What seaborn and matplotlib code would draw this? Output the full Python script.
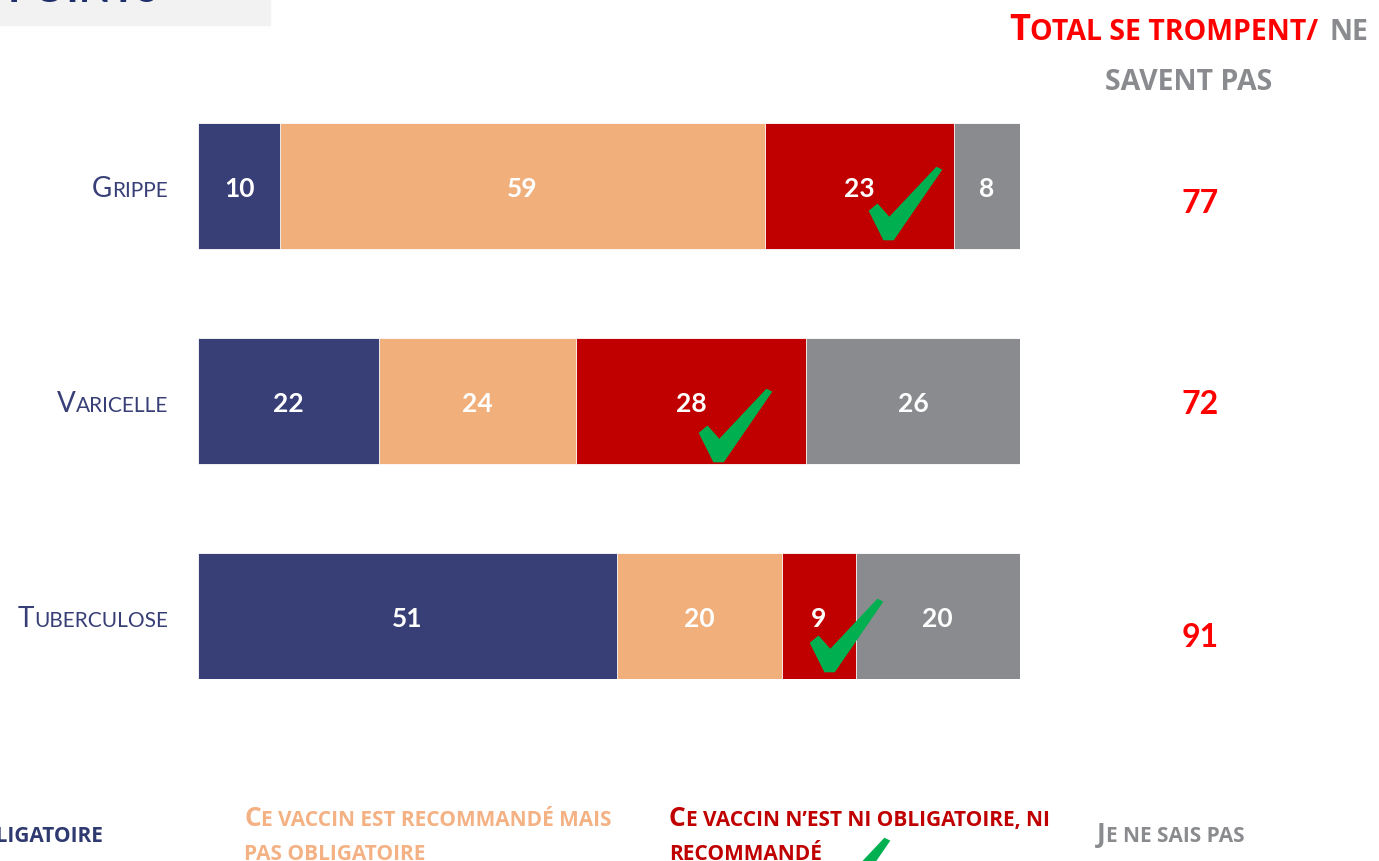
import numpy as np
import pandas as pd
import matplotlib
matplotlib.use('Agg')
import matplotlib.pyplot as plt
import seaborn as sns
from matplotlib.path import Path
from matplotlib.patches import Rectangle
from matplotlib.lines import Line2D
from matplotlib.transforms import IdentityTransform

# data
categories = ['GRIPPE', 'VARICELLE', 'TUBERCULOSE']
obligatoire = [10, 22, 51]
recommande = [59, 24, 20]
ni_ni = [23, 28, 9]
ne_sait_pas = [8, 26, 20]
totals = [77, 72, 91]

legend_labels = [
    ['CE VACCIN EST OBLIGATOIRE'],
    ['CE VACCIN EST RECOMMANDÉ MAIS', 'PAS OBLIGATOIRE'],
    ['CE VACCIN N\u2019EST NI OBLIGATOIRE, NI', 'RECOMMANDÉ'],
    ['JE NE SAIS PAS'],
]

W, H = 1379, 861
NAVY = '#373F76'
ORANGE = '#F0AF7B'
ORANGE_TXT = '#F4B183'
RED = '#C00000'
GREY = '#898B8E'
GREEN = '#00B050'
BRIGHT_RED = '#FF0000'

sns.set_theme(style='white')
plt.rcParams['font.family'] = ['Lato', 'DejaVu Sans']

fig = plt.figure(figsize=(W / 100, H / 100), dpi=100)
ax = fig.add_axes([198 / W, (H - 679) / H, 822 / W, 556 / H])

df = pd.DataFrame({'cat': categories, 'a': obligatoire, 'b': recommande,
                   'c': ni_ni, 'd': ne_sait_pas})
df['cum1'] = df['a']
df['cum2'] = df['cum1'] + df['b']
df['cum3'] = df['cum2'] + df['c']
df['cum4'] = df['cum3'] + df['d']

# stacked bars by drawing cumulative sums, largest first
for col, color in [('cum4', GREY), ('cum3', RED), ('cum2', ORANGE), ('cum1', NAVY)]:
    sns.barplot(data=df, x=col, y='cat', order=categories, color=color,
                saturation=1, width=0.586, edgecolor='white', linewidth=0.6,
                errorbar=None, ax=ax)

ax.set_xlim(0, 100)
ax.set_ylim(2.293, -0.293)
ax.axis('off')

# values inside segments
for i, row in df.iterrows():
    left = 0
    for v in [row['a'], row['b'], row['c'], row['d']]:
        ax.text(left + v / 2, i + 0.051, str(v), color='white', fontsize=19,
                fontweight='bold', ha='center', va='baseline', zorder=6)
        left += v

# totals on the right
total_dy = [0.126, 0.060, 0.144]
for i, t in enumerate(totals):
    ax.text(121.9, i + total_dy[i], str(t), color=BRIGHT_RED, fontsize=23,
            fontweight='bold', ha='center', va='baseline', clip_on=False)

# check mark shape
check = Path([(-0.50, -0.10), (-0.38, 0.00), (-0.22, -0.18), (0.42, 0.50),
              (0.50, 0.46), (-0.16, -0.50), (-0.30, -0.50), (-0.50, -0.10)],
             [Path.MOVETO] + [Path.LINETO] * 6 + [Path.CLOSEPOLY])
check_pos = [(86.0, 0.08), (65.3, 1.11), (78.8, 2.09)]
for cx, cy in check_pos:
    ax.plot([cx], [cy], marker=check, markersize=53, color=GREEN,
            markeredgewidth=0, clip_on=False, zorder=7)

# small caps helper, coords in image pixels (y from top, baseline)
renderer = fig.canvas.get_renderer()


def runs(x, y, parts, ha='left', weight='bold', family=None):
    arts, widths = [], []
    for s, size, col, gap in parts:
        t = fig.text(0, 0, s, fontsize=size, color=col, fontweight=weight,
                     ha='left', va='baseline', transform=IdentityTransform())
        if family:
            t.set_family(family)
        arts.append((t, gap))
        widths.append(t.get_window_extent(renderer).width + gap)
    total = sum(widths)
    cur = x if ha == 'left' else (x - total if ha == 'right' else x - total / 2)
    for (t, gap), w in zip(arts, widths):
        t.set_position((cur + gap, H - y))
        cur += w


def caps(x, y, text, big, small, col, ha='left', weight='bold', family=None):
    runs(x, y, [(text[0], big, col, 0), (text[1:], small, col, 0)], ha, weight, family)


OPEN = ['Open Sans', 'DejaVu Sans']

# category labels
label_y = [197, 412, 627]
for cat, yy in zip(categories, label_y):
    caps(168, yy, cat, 20, 15, NAVY, ha='right', weight='normal')

# header
runs(1189, 40, [('T', 26, BRIGHT_RED, 0), ('OTAL SE TROMPENT/', 20.5, BRIGHT_RED, 0),
                ('NE', 20.5, GREY, 11)], ha='center', family=OPEN)
runs(1189, 90, [('SAVENT PAS', 20.5, GREY, 0)], ha='center', family=OPEN)

# legend at the bottom
leg_cols = ['#2F3A70', ORANGE_TXT, RED, GREY]
leg_x = [(103, 'right'), (244, 'left'), (669, 'left'), (1097, 'left')]
for lines, col, (lx, lha) in zip(legend_labels, leg_cols, leg_x):
    if len(lines) == 1:
        caps(lx, 842, lines[0], 19, 15, col, ha=lha, family=OPEN)
    else:
        caps(lx, 826, lines[0], 19, 15, col, ha=lha, family=OPEN)
        runs(lx, 860, [(lines[1], 15, col, 0)], ha=lha, family=OPEN)

fig.add_artist(Line2D([853], [H - 874], marker=check, markersize=53, color=GREEN,
                      markeredgewidth=0, transform=IdentityTransform()))

# grey title box cut at the top
fig.add_artist(Rectangle((0, H - 25), 270, 25, color='#F2F2F2',
                         transform=IdentityTransform(), zorder=0))
fig.text(8, H - 2, 'POINTS', fontsize=30, fontweight='bold', color='#1F2F6B',
         ha='left', va='baseline', transform=IdentityTransform())

fig.savefig('out.png', dpi=100)
